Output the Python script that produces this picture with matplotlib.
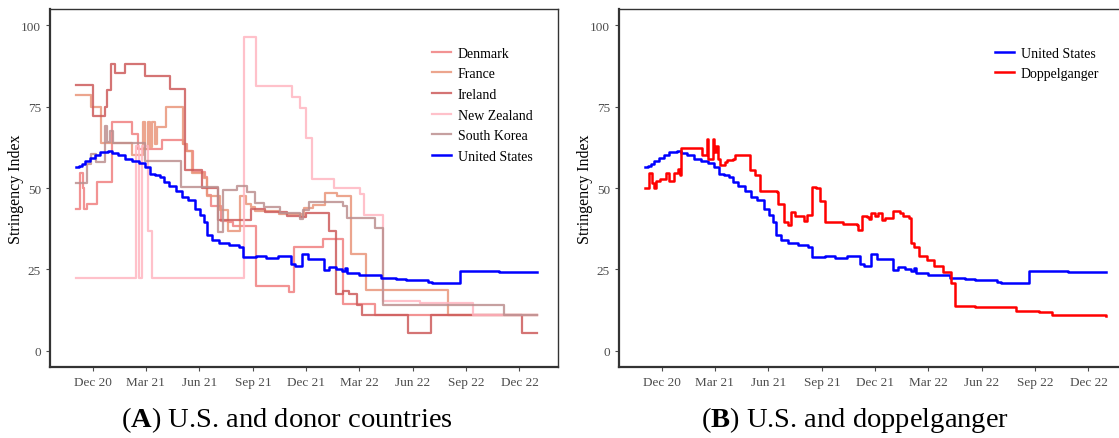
import pandas as pd
import matplotlib
matplotlib.use("Agg")
import matplotlib.pyplot as plt
import matplotlib.dates as mdates

plt.rcParams['font.family'] = ['Liberation Serif', 'DejaVu Serif']
plt.rcParams['mathtext.fontset'] = 'custom'
plt.rcParams['mathtext.rm'] = 'Liberation Serif'
plt.rcParams['mathtext.bf'] = 'Liberation Serif:bold'

# stringency index, step changes (date, value)
denmark_dates = ["2020-11-01", "2020-11-09", "2020-11-14", "2020-11-16", "2020-11-21", "2020-12-07",
                 "2021-01-03", "2021-02-06", "2021-02-16", "2021-03-29", "2021-05-03", "2021-05-11",
                 "2021-05-21", "2021-06-11", "2021-06-14", "2021-06-20", "2021-07-08", "2021-07-20",
                 "2021-07-29", "2021-09-06", "2021-11-02", "2021-11-10", "2021-12-29", "2022-02-01",
                 "2022-03-29", "2022-12-31"]
denmark_vals = [43.5, 54.6, 50.0, 43.5, 45.0, 51.9,
                70.4, 66.7, 62.0, 64.8, 63.5, 61.5,
                55.0, 53.5, 47.8, 44.5, 40.0, 39.5,
                38.2, 20.0, 18.1, 31.8, 34.3, 14.3,
                11.1, 11.1]

france_dates = ["2020-11-01", "2020-11-28", "2020-12-15", "2021-02-05", "2021-02-24", "2021-02-28",
                "2021-03-04", "2021-03-08", "2021-03-12", "2021-03-16",
                "2021-03-20", "2021-04-04", "2021-05-03", "2021-05-09", "2021-05-19", "2021-06-09",
                "2021-06-14", "2021-07-06", "2021-07-20", "2021-08-09", "2021-08-20", "2021-08-28",
                "2021-09-04", "2021-10-15", "2021-11-24", "2021-11-27", "2021-12-12", "2022-01-02",
                "2022-01-22", "2022-02-16", "2022-03-14", "2022-08-01", "2022-12-31"]
france_vals = [78.7, 75.0, 63.9, 60.2, 70.3, 62.0,
               70.3, 62.5, 70.3, 63.5,
               68.6, 75.0, 63.5, 61.5, 54.5, 53.0,
               47.4, 43.3, 36.7, 47.5, 45.0, 44.3,
               42.8, 42.0, 41.5, 44.0, 44.9, 48.5,
               47.4, 29.6, 18.8, 11.1, 11.1]

ireland_dates = ["2020-11-01", "2020-12-01", "2020-12-22", "2020-12-24", "2020-12-31", "2021-01-07",
                 "2021-01-24", "2021-02-27", "2021-04-11", "2021-05-08", "2021-06-05", "2021-07-03",
                 "2021-08-29", "2021-09-22", "2021-10-29", "2021-11-20", "2021-12-01", "2022-01-08",
                 "2022-01-20", "2022-02-02", "2022-02-12", "2022-02-25", "2022-03-06", "2022-05-24",
                 "2022-07-02", "2022-12-05", "2022-12-31"]
ireland_vals = [81.6, 72.2, 75.0, 80.1, 88.0, 85.2,
                88.0, 84.5, 80.5, 55.4, 50.0, 40.2,
                43.4, 42.5, 41.5, 41.0, 42.4, 36.9,
                17.4, 18.4, 17.4, 14.2, 11.1, 5.5,
                11.1, 5.5, 5.5]

nz_dates = ["2020-11-01", "2021-02-13", "2021-02-18", "2021-02-22", "2021-03-05", "2021-03-11",
            "2021-08-16", "2021-09-05", "2021-11-06", "2021-11-21", "2021-12-01", "2021-12-11",
            "2022-01-17", "2022-03-03", "2022-03-10", "2022-04-12", "2022-06-13", "2022-09-12",
            "2022-12-31"]
nz_vals = [22.3, 63.0, 22.3, 63.0, 36.9, 22.3,
           96.3, 81.2, 77.9, 74.5, 65.4, 52.8,
           50.0, 48.3, 41.8, 15.3, 14.6, 11.1,
           11.1]

korea_dates = ["2020-11-01", "2020-11-21", "2020-11-28", "2020-12-06", "2020-12-21", "2020-12-25",
               "2020-12-29", "2021-01-04", "2021-02-27", "2021-05-01", "2021-07-02", "2021-07-12",
               "2021-08-04", "2021-08-22", "2021-09-04", "2021-09-20", "2021-10-17", "2021-11-20",
               "2021-11-26", "2021-12-06", "2022-02-02", "2022-02-09", "2022-03-29", "2022-04-12",
               "2022-11-05", "2022-12-31"]
korea_vals = [51.6, 57.5, 60.5, 58.0, 69.0, 64.0,
              67.6, 63.9, 58.3, 50.2, 36.5, 49.4,
              50.6, 48.8, 45.3, 44.2, 42.2, 40.4,
              43.2, 45.7, 44.5, 40.8, 37.8, 13.9,
              11.1, 11.1]

us_dates = ["2020-11-01", "2020-11-06", "2020-11-11", "2020-11-17", "2020-11-25", "2020-12-04",
            "2020-12-13", "2020-12-27", "2021-01-02", "2021-01-13", "2021-01-25", "2021-02-05",
            "2021-02-17", "2021-02-28", "2021-03-09", "2021-03-17", "2021-03-26", "2021-04-01",
            "2021-04-09", "2021-04-21", "2021-05-02", "2021-05-13", "2021-05-25", "2021-06-02",
            "2021-06-08", "2021-06-14", "2021-06-22", "2021-07-04", "2021-07-21", "2021-08-07",
            "2021-08-15", "2021-09-05", "2021-09-23", "2021-10-13", "2021-11-04", "2021-11-12",
            "2021-11-24", "2021-12-03", "2021-12-31", "2022-01-09", "2022-01-21", "2022-01-31",
            "2022-02-06", "2022-02-09", "2022-03-02", "2022-03-21", "2022-04-08", "2022-05-03",
            "2022-05-21", "2022-06-27", "2022-07-05", "2022-08-22", "2022-10-27", "2022-12-31"]
us_vals = [56.4, 56.9, 57.3, 58.4, 59.1, 60.0,
           61.2, 61.3, 60.7, 60.0, 59.0, 58.4,
           57.7, 56.4, 54.4, 53.9, 53.4, 51.8,
           50.6, 49.0, 47.3, 46.2, 43.7, 41.7,
           39.6, 35.6, 34.0, 33.0, 32.5, 32.0,
           28.8, 29.2, 28.5, 29.2, 26.5, 26.0,
           29.6, 28.3, 24.7, 25.6, 25.0, 24.5,
           25.4, 23.9, 23.4, 23.2, 22.4, 22.1,
           21.6, 21.2, 20.9, 24.6, 24.2, 24.2]

dopp_dates = ["2020-11-01", "2020-11-08", "2020-11-13", "2020-11-17", "2020-11-20", "2020-11-28",
              "2020-12-07", "2020-12-13", "2020-12-22", "2020-12-28", "2020-12-31", "2021-01-03",
              "2021-02-07", "2021-02-15", "2021-02-18", "2021-02-26", "2021-02-28", "2021-03-03",
              "2021-03-06", "2021-03-10", "2021-03-18", "2021-03-22", "2021-04-02", "2021-04-05",
              "2021-05-01", "2021-05-09", "2021-05-18", "2021-06-15", "2021-06-17", "2021-06-27",
              "2021-07-05", "2021-07-10", "2021-07-17", "2021-07-31", "2021-08-06", "2021-08-15",
              "2021-08-21", "2021-08-29", "2021-09-05", "2021-10-06", "2021-10-31", "2021-11-02",
              "2021-11-08", "2021-11-17", "2021-11-20", "2021-11-24", "2021-11-30", "2021-12-06",
              "2021-12-12", "2021-12-18", "2021-12-31", "2022-01-12", "2022-01-18", "2022-01-28",
              "2022-01-31", "2022-02-05", "2022-02-13", "2022-02-27", "2022-03-12", "2022-03-27",
              "2022-04-10", "2022-04-16", "2022-05-21", "2022-07-30", "2022-09-08", "2022-09-11",
              "2022-09-30", "2022-11-15", "2022-12-31"]
dopp_vals = [50.0, 54.7, 51.5, 50.0, 52.0, 52.8,
             54.5, 52.3, 54.7, 55.7, 54.0, 62.3,
             60.2, 65.0, 59.0, 65.0, 61.0, 63.0,
             59.0, 57.0, 58.0, 58.5, 59.0, 60.0,
             55.5, 54.0, 49.2, 48.8, 45.0, 39.5,
             38.7, 42.5, 41.5, 40.0, 41.6, 50.4,
             50.0, 46.0, 39.4, 39.0, 38.5, 37.2,
             41.4, 41.0, 40.5, 42.3, 41.5, 42.3,
             40.2, 40.7, 42.8, 42.3, 41.4, 40.8,
             33.0, 31.8, 29.2, 27.9, 26.0, 24.1,
             20.8, 13.6, 13.4, 12.2, 12.0, 11.8,
             11.0, 10.9, 10.8]

donors = [
    ("Denmark", denmark_dates, denmark_vals, "lightcoral"),
    ("France", france_dates, france_vals, "darksalmon"),
    ("Ireland", ireland_dates, ireland_vals, "indianred"),
    ("New Zealand", nz_dates, nz_vals, "lightpink"),
    ("South Korea", korea_dates, korea_vals, "rosybrown"),
]

tick_dates = pd.to_datetime(["2020-12-01", "2021-03-01", "2021-06-01", "2021-09-01", "2021-12-01",
                             "2022-03-01", "2022-06-01", "2022-09-01", "2022-12-01"])
xlim = (pd.Timestamp("2020-09-18"), pd.Timestamp("2023-02-05"))

fig = plt.figure(figsize=(11.19, 4.39), dpi=100)
ax1 = fig.add_axes([50 / 1119, 71 / 439, 508 / 1119, 358 / 439])
ax2 = fig.add_axes([619 / 1119, 71 / 439, 508 / 1119, 358 / 439])


def style(ax):
    ax.set_xlim(xlim)
    ax.set_ylim(-5, 105)
    ax.set_yticks([0, 25, 50, 75, 100])
    ax.set_xticks(tick_dates)
    ax.xaxis.set_major_formatter(mdates.DateFormatter("%b %y"))
    ax.tick_params(labelsize=9.5, colors="#4d4d4d", length=3, width=0.8)
    for s in ax.spines.values():
        s.set_color("#333333")
        s.set_linewidth(1.0)
    ax.spines["left"].set_linewidth(1.6)
    ax.spines["bottom"].set_linewidth(1.6)
    ax.set_ylabel("Stringency Index", fontsize=11.5)
    ax.yaxis.set_label_coords(-0.052, 0.5)


for name, d, v, c in donors:
    ax1.step(pd.to_datetime(d), v, where="post", color=c, lw=1.6, alpha=0.85, label=name)
ax1.step(pd.to_datetime(us_dates), us_vals, where="post", color="blue", lw=1.8, label="United States")

ax2.step(pd.to_datetime(us_dates), us_vals, where="post", color="blue", lw=1.8, label="United States")
ax2.step(pd.to_datetime(dopp_dates), dopp_vals, where="post", color="red", lw=1.8, label="Doppelganger")

for ax, x0 in ((ax1, 0.752), (ax2, 0.740)):
    style(ax)
    ax.legend(loc="upper left", bbox_to_anchor=(x0, 0.895), frameon=False, fontsize=10,
              handlelength=1.4, handletextpad=0.45, labelspacing=0.55, borderpad=0,
              borderaxespad=0)

fig.text(287 / 1119, 1 - 420 / 439, r"($\mathbf{A}$) U.S. and donor countries",
         ha="center", va="center", fontsize=20.5)
fig.text(855 / 1119, 1 - 420 / 439, r"($\mathbf{B}$) U.S. and doppelganger",
         ha="center", va="center", fontsize=20.5)

fig.savefig("out.png", dpi=100)
